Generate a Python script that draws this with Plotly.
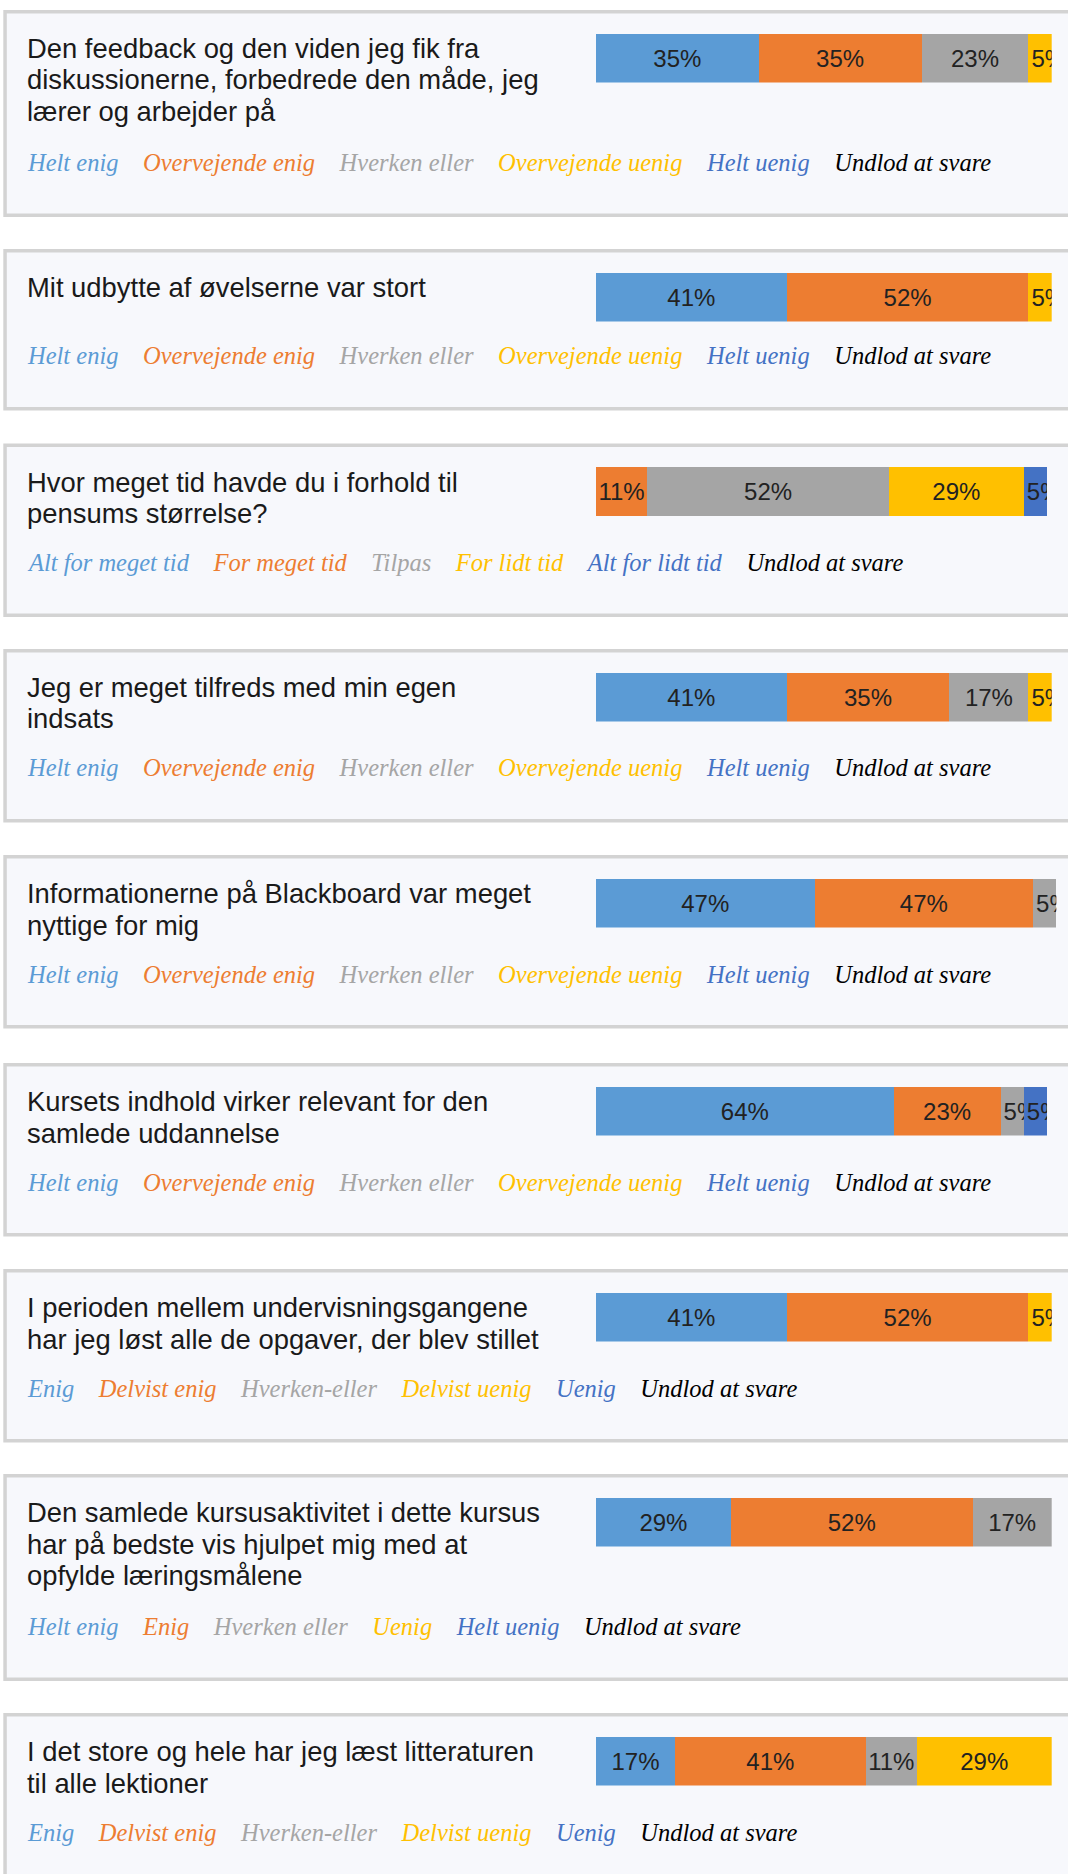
import plotly.graph_objects as go

# ---------------- data ----------------
QUESTION_1 = ["Den feedback og den viden jeg fik fra", "diskussionerne, forbedrede den måde, jeg", "lærer og arbejder på"]
QUESTION_2 = ["Mit udbytte af øvelserne var stort"]
QUESTION_3 = ["Hvor meget tid havde du i forhold til", "pensums størrelse?"]
QUESTION_4 = ["Jeg er meget tilfreds med min egen", "indsats"]
QUESTION_5 = ["Informationerne på Blackboard var meget", "nyttige for mig"]
QUESTION_6 = ["Kursets indhold virker relevant for den", "samlede uddannelse"]
QUESTION_7 = ["I perioden mellem undervisningsgangene", "har jeg løst alle de opgaver, der blev stillet"]
QUESTION_8 = ["Den samlede kursusaktivitet i dette kursus", "har på bedste vis hjulpet mig med at", "opfylde læringsmålene"]
QUESTION_9 = ["I det store og hele har jeg læst litteraturen", "til alle lektioner"]

SCALE_OVERVEJENDE = ["Helt enig", "Overvejende enig", "Hverken eller", "Overvejende uenig", "Helt uenig", "Undlod at svare"]
SCALE_TID = ["Alt for meget tid", "For meget tid", "Tilpas", "For lidt tid", "Alt for lidt tid", "Undlod at svare"]
SCALE_DELVIST = ["Enig", "Delvist enig", "Hverken-eller", "Delvist uenig", "Uenig", "Undlod at svare"]
SCALE_HELT = ["Helt enig", "Enig", "Hverken eller", "Uenig", "Helt uenig", "Undlod at svare"]

PCT_Q1 = [35, 35, 23, 5, 0, 0]
PCT_Q2 = [41, 52, 0, 5, 0, 0]
PCT_Q3 = [0, 11, 52, 29, 5, 0]
PCT_Q4 = [41, 35, 17, 5, 0, 0]
PCT_Q5 = [47, 47, 5, 0, 0, 0]
PCT_Q6 = [64, 23, 5, 0, 5, 0]
PCT_Q7 = [41, 52, 0, 5, 0, 0]
PCT_Q8 = [29, 52, 17, 0, 0, 0]
PCT_Q9 = [17, 41, 11, 29, 0, 0]

CATEGORY_COLORS = ["#5B9BD5", "#ED7D31", "#A5A5A5", "#FFC000", "#4472C4", "#000000"]

QUESTIONS = [QUESTION_1, QUESTION_2, QUESTION_3, QUESTION_4, QUESTION_5,
             QUESTION_6, QUESTION_7, QUESTION_8, QUESTION_9]
SCALES = [SCALE_OVERVEJENDE, SCALE_OVERVEJENDE, SCALE_TID, SCALE_OVERVEJENDE, SCALE_OVERVEJENDE,
          SCALE_OVERVEJENDE, SCALE_DELVIST, SCALE_HELT, SCALE_DELVIST]
VALUES = [PCT_Q1, PCT_Q2, PCT_Q3, PCT_Q4, PCT_Q5, PCT_Q6, PCT_Q7, PCT_Q8, PCT_Q9]

# ---------------- layout constants (pixels) ----------------
W, H = 1068, 1874
PANEL_TOPS = [10, 249, 443.5, 649, 855, 1063, 1269, 1474, 1713]
PANEL_LEFT = 3.3
BORDER = 3.5
PANEL_BG = "#F7F8FC"
BORDER_COLOR = "#D3D3D3"
BAR_X0 = 596
PX_PER_PCT = 4.65
BAR_TOP_OFF = 23.5
BAR_H = 49
TEXT_X = 24.5
LINE1_OFF = 38.5
LINE_GAP = 31.5
LEGEND_OFF = {1: 107, 2: 119, 3: 152.5}
BOTTOM_PAD = 54.5

SANS = "Liberation Sans, Arial, sans-serif"
SERIF = "Liberation Serif, Georgia, serif"


def px(x):
    return x / W


def py(y):
    return 1 - y / H


fig = go.Figure()
shapes = []
annotations = []
layout_axes = {}

for i, (question, scale, vals) in enumerate(zip(QUESTIONS, SCALES, VALUES)):
    top = PANEL_TOPS[i]
    nlines = len(question)
    legend_y = top + LEGEND_OFF[nlines]
    bottom = legend_y + BOTTOM_PAD

    # panel box
    shapes.append(dict(
        type="rect", xref="paper", yref="paper", layer="below",
        x0=px(PANEL_LEFT + BORDER / 2), x1=px(W + 40),
        y0=py(top + BORDER / 2), y1=py(bottom - BORDER / 2),
        line=dict(color=BORDER_COLOR, width=BORDER), fillcolor=PANEL_BG,
    ))

    # subplot axes: range = total of the shown values, domain proportional
    total = sum(vals)
    ax = "" if i == 0 else str(i + 1)
    bar_top = top + BAR_TOP_OFF
    layout_axes["xaxis" + ax] = dict(
        domain=[px(BAR_X0), px(BAR_X0 + total * PX_PER_PCT)], range=[0, total],
        visible=False, fixedrange=True, anchor="y" + ax)
    layout_axes["yaxis" + ax] = dict(
        domain=[py(bar_top + BAR_H), py(bar_top)], range=[-0.5, 0.5],
        visible=False, fixedrange=True, anchor="x" + ax)

    for v, name, color in zip(vals, scale, CATEGORY_COLORS):
        label = f"{v}%" if v > 0 else ""
        text_w = 24 * (0.556 * len(str(v)) + 0.889)
        anchor = "middle" if text_w <= v * PX_PER_PCT else "start"
        fig.add_trace(go.Bar(
            x=[v], y=[0], orientation="h", width=1, name=name,
            marker=dict(color=color, line=dict(width=0)),
            text=[label], textposition="inside", insidetextanchor=anchor,
            textangle=0, cliponaxis=True,
            textfont=dict(family=SANS, size=24, color="#222222"),
            xaxis="x" + ax, yaxis="y" + ax, hoverinfo="skip", showlegend=False,
        ))

    # question text
    for k, line in enumerate(question):
        annotations.append(dict(
            text=line, xref="paper", yref="paper",
            x=px(TEXT_X), y=py(top + LINE1_OFF + k * LINE_GAP),
            xanchor="left", yanchor="middle", showarrow=False,
            font=dict(family=SANS, size=27.4, color="#1a1a1a"),
        ))

    # category legend row
    sep = "\u00a0" * 4
    legend_text = sep.join(
        f'<span style="color:{c}">{n}</span>' for n, c in zip(scale, CATEGORY_COLORS))
    annotations.append(dict(
        text=legend_text, xref="paper", yref="paper",
        x=px(TEXT_X), y=py(legend_y),
        xanchor="left", yanchor="middle", showarrow=False,
        font=dict(family=SERIF, size=24.5, style="italic", color="#000000"),
    ))

fig.update_layout(
    width=W, height=H,
    margin=dict(l=0, r=0, t=0, b=0),
    paper_bgcolor="white", plot_bgcolor=PANEL_BG,
    barmode="stack", showlegend=False, hovermode=False,
    uniformtext=dict(minsize=24, mode="show"),
    shapes=shapes, annotations=annotations,
    **layout_axes,
)

fig.write_html(
    "out.html",
    config={"displayModeBar": False},
    post_script="document.body.style.margin='0';document.body.style.overflow='hidden';",
)
